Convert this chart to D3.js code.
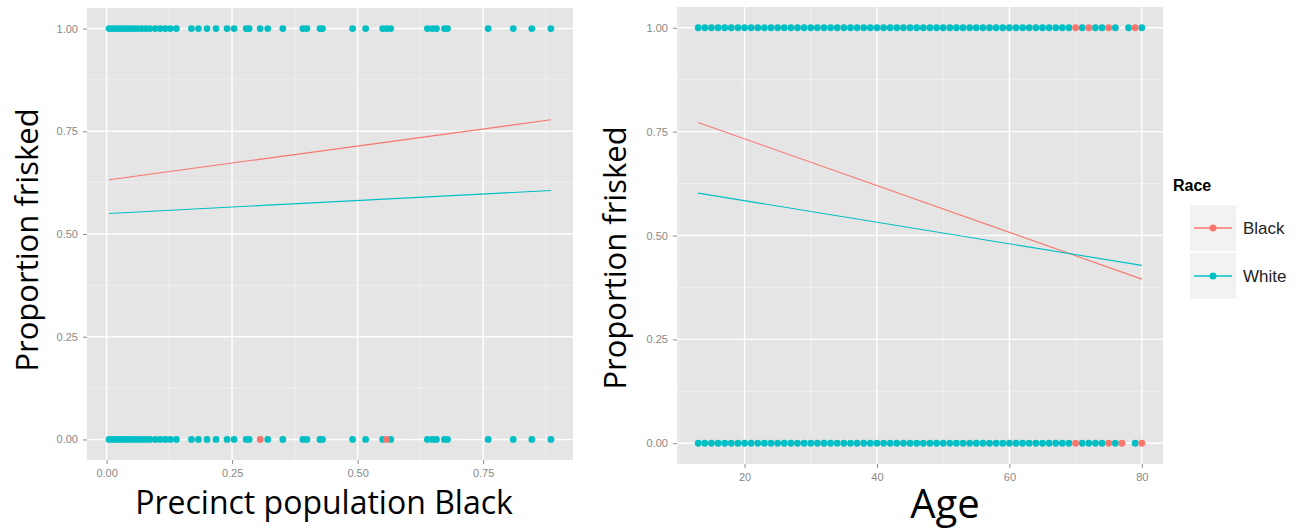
<!DOCTYPE html>
<html>
<head>
<meta charset="utf-8">
<script src="https://cdn.jsdelivr.net/npm/d3@7"></script>
<style>
	body { margin: 0; background: #fff; }
	svg { display: block; }
	.tick text { font-family: "Liberation Sans", Arial, sans-serif; }
</style>
</head>
<body>
<script>
// data
const races = ["Black", "White"];
const raceColors = ["#F8766D", "#00BFC4"];

// left panel: precinct share Black, outcome 1 (top row) and 0 (bottom row)
const precinctWhiteTop = [0.005, 0.011, 0.017, 0.023, 0.029, 0.035, 0.041, 0.048, 0.055, 0.062, 0.07, 0.078, 0.086,
	0.097, 0.107, 0.117, 0.127, 0.139, 0.169, 0.183, 0.2, 0.218, 0.24, 0.254, 0.278, 0.284, 0.306, 0.321, 0.351,
	0.391, 0.399, 0.425, 0.43, 0.49, 0.516, 0.55, 0.558, 0.566, 0.639, 0.649, 0.657, 0.673, 0.679, 0.76, 0.81, 0.847, 0.885];
const precinctBlackTop = [];
const precinctWhiteBottom = [0.005, 0.011, 0.017, 0.023, 0.029, 0.035, 0.041, 0.048, 0.055, 0.062, 0.07, 0.078, 0.086,
	0.097, 0.107, 0.117, 0.127, 0.139, 0.169, 0.183, 0.2, 0.218, 0.24, 0.254, 0.278, 0.284, 0.321, 0.351,
	0.391, 0.399, 0.425, 0.43, 0.49, 0.516, 0.55, 0.566, 0.639, 0.649, 0.657, 0.673, 0.679, 0.76, 0.81, 0.847, 0.885];
const precinctBlackBottom = [0.306, 0.557];
// fitted lines [x, y]
const precinctFitBlack = [[0.005, 0.632], [0.885, 0.778]];
const precinctFitWhite = [[0.005, 0.550], [0.885, 0.606]];

// right panel: age
const ageWhiteTop = [13, 14, 15, 16, 17, 18, 19, 20, 21, 22, 23, 24, 25, 26, 27, 28, 29, 30, 31, 32, 33, 34, 35, 36, 37, 38,
	39, 40, 41, 42, 43, 44, 45, 46, 47, 48, 49, 50, 51, 52, 53, 54, 55, 56, 57, 58, 59, 60, 61, 62, 63, 64, 65, 66, 67, 68,
	69, 71, 73, 74, 76, 78, 80];
const ageBlackTop = [70, 72, 75, 79];
const ageWhiteBottom = [13, 14, 15, 16, 17, 18, 19, 20, 21, 22, 23, 24, 25, 26, 27, 28, 29, 30, 31, 32, 33, 34, 35, 36, 37, 38,
	39, 40, 41, 42, 43, 44, 45, 46, 47, 48, 49, 50, 51, 52, 53, 54, 55, 56, 57, 58, 59, 60, 61, 62, 63, 64, 65, 66, 67, 68,
	69, 71, 72, 73, 74, 76, 79];
const ageBlackBottom = [70, 75, 77, 80];
const ageFitBlack = [[13, 0.772], [80, 0.395]];
const ageFitWhite = [[13, 0.602], [80, 0.428]];

const yTicks = [0, 0.25, 0.5, 0.75, 1];
const yMinor = [0.125, 0.375, 0.625, 0.875];
const precinctTicks = [0, 0.25, 0.5, 0.75];
const precinctMinor = [0.125, 0.375, 0.625, 0.875];
const ageTicks = [20, 40, 60, 80];
const ageMinor = [10, 30, 50, 70];

const svg = d3.select("body").append("svg")
	.attr("width", 1305)
	.attr("height", 532);

const drawPanel = (opt) => {
	const x = d3.scaleLinear().domain(opt.xDomain).range([opt.left, opt.right]),
		  y = d3.scaleLinear().domain([-0.05, 1.05]).range([opt.bottom, opt.top]),
		  g = svg.append("g");

	g.append("rect")
	 .attr("x", opt.left).attr("y", opt.top)
	 .attr("width", opt.right - opt.left).attr("height", opt.bottom - opt.top)
	 .attr("fill", "#e5e5e5");

	// minor grid
	g.selectAll("line.xmin").data(opt.xMinor.filter(d => x(d) > opt.left)).enter().append("line")
	 .attr("x1", d => x(d)).attr("x2", d => x(d)).attr("y1", opt.top).attr("y2", opt.bottom)
	 .attr("stroke", "#f2f2f2").attr("stroke-width", 0.8);
	g.selectAll("line.ymin").data(yMinor).enter().append("line")
	 .attr("y1", d => y(d)).attr("y2", d => y(d)).attr("x1", opt.left).attr("x2", opt.right)
	 .attr("stroke", "#f2f2f2").attr("stroke-width", 0.8);
	// major grid
	g.selectAll("line.xmaj").data(opt.xTicks).enter().append("line")
	 .attr("x1", d => x(d)).attr("x2", d => x(d)).attr("y1", opt.top).attr("y2", opt.bottom)
	 .attr("stroke", "#fff").attr("stroke-width", 1.4);
	g.selectAll("line.ymaj").data(yTicks).enter().append("line")
	 .attr("y1", d => y(d)).attr("y2", d => y(d)).attr("x1", opt.left).attr("x2", opt.right)
	 .attr("stroke", "#fff").attr("stroke-width", 1.4);

	// points
	const pts = [];
	opt.whiteTop.forEach(v => pts.push([v, 1, 1]));
	opt.whiteBottom.forEach(v => pts.push([v, 0, 1]));
	opt.blackTop.forEach(v => pts.push([v, 1, 0]));
	opt.blackBottom.forEach(v => pts.push([v, 0, 0]));
	g.selectAll("circle").data(pts).enter().append("circle")
	 .attr("cx", d => x(d[0])).attr("cy", d => y(d[1]))
	 .attr("r", 3.4)
	 .attr("fill", d => raceColors[d[2]]);

	// fitted lines
	const line = d3.line().x(d => x(d[0])).y(d => y(d[1]));
	[opt.fitBlack, opt.fitWhite].forEach((f, i) => {
		g.append("path").attr("d", line(f)).attr("fill", "none")
		 .attr("stroke", raceColors[i]).attr("stroke-width", 1.1);
	});

	// axes
	const xAxis = g.append("g")
		.attr("transform", "translate(0," + opt.bottom + ")")
		.call(d3.axisBottom(x).tickValues(opt.xTicks).tickFormat(opt.xFormat).tickSize(4).tickPadding(5));
	const yAxis = g.append("g")
		.attr("transform", "translate(" + opt.left + ",0)")
		.call(d3.axisLeft(y).tickValues(yTicks).tickFormat(d3.format(".2f")).tickSize(4).tickPadding(5));
	[xAxis, yAxis].forEach(a => {
		a.select(".domain").remove();
		a.selectAll(".tick line").attr("stroke", "#888");
		a.selectAll(".tick text").attr("fill", "#888").style("font-size", "11px");
	});

	// titles
	g.append("text")
	 .text(opt.xTitle)
	 .attr("x", opt.xTitleX).attr("y", opt.xTitleY)
	 .attr("text-anchor", "middle")
	 .style("font-family", "Open Sans, sans-serif")
	 .style("font-size", opt.xTitleSize + "px")
	 .attr("fill", "#000");
	g.append("text")
	 .text("Proportion frisked")
	 .attr("transform", "translate(" + opt.yTitleX + "," + opt.yTitleY + ") rotate(-90)")
	 .attr("text-anchor", "middle")
	 .style("font-family", "Open Sans, sans-serif")
	 .style("font-size", "31px")
	 .attr("fill", "#000");
};

drawPanel({
	left: 87, right: 573, top: 8, bottom: 460,
	xDomain: [-0.039, 0.929],
	xTicks: precinctTicks, xMinor: precinctMinor, xFormat: d3.format(".2f"),
	whiteTop: precinctWhiteTop, whiteBottom: precinctWhiteBottom,
	blackTop: precinctBlackTop, blackBottom: precinctBlackBottom,
	fitBlack: precinctFitBlack, fitWhite: precinctFitWhite,
	xTitle: "Precinct population Black", xTitleX: 324, xTitleY: 514, xTitleSize: 32,
	yTitleX: 38, yTitleY: 240
});

drawPanel({
	left: 677, right: 1163, top: 7, bottom: 464,
	xDomain: [9.8, 83.2],
	xTicks: ageTicks, xMinor: ageMinor, xFormat: d3.format("d"),
	whiteTop: ageWhiteTop, whiteBottom: ageWhiteBottom,
	blackTop: ageBlackTop, blackBottom: ageBlackBottom,
	fitBlack: ageFitBlack, fitWhite: ageFitWhite,
	xTitle: "Age", xTitleX: 945, xTitleY: 518, xTitleSize: 40,
	yTitleX: 626, yTitleY: 258
});

// legend
const legend = svg.append("g").attr("transform", "translate(1173,0)");
legend.append("text")
	  .text("Race")
	  .attr("x", 0).attr("y", 191)
	  .style("font-family", "Liberation Sans, Arial, sans-serif")
	  .style("font-size", "16px").style("font-weight", "bold")
	  .attr("fill", "#000");
const keys = legend.selectAll("g.key").data(races).enter().append("g")
	  .attr("transform", (d, i) => "translate(17," + (205 + i * 48) + ")");
keys.append("rect").attr("width", 46).attr("height", 46).attr("fill", "#f2f2f2");
keys.append("line").attr("x1", 4).attr("x2", 42).attr("y1", 23).attr("y2", 23)
	.attr("stroke", (d, i) => raceColors[i]).attr("stroke-width", 1.3);
keys.append("circle").attr("cx", 23).attr("cy", 23).attr("r", 3.5)
	.attr("fill", (d, i) => raceColors[i]);
keys.append("text").text(d => d)
	.attr("x", 53).attr("y", 23).attr("dy", "0.35em")
	.style("font-family", "Liberation Sans, Arial, sans-serif")
	.style("font-size", "17px")
	.attr("fill", "#222");
</script>
</body>
</html>
